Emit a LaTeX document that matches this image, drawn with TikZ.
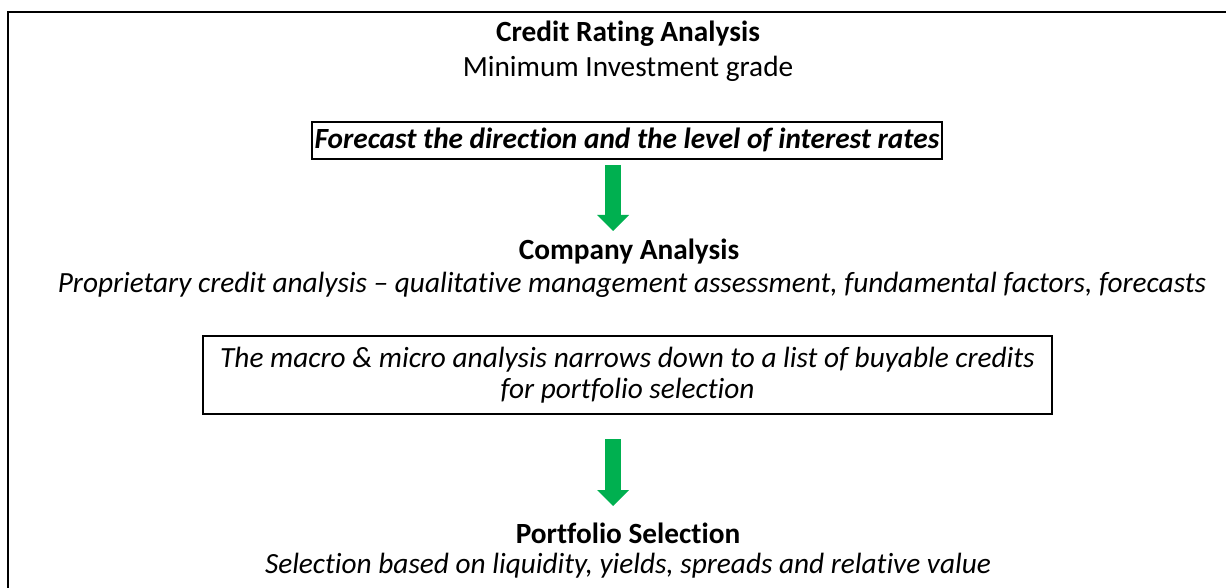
\documentclass[tikz,border=0pt]{standalone}
\usepackage{fontspec}
\setmainfont{Carlito}[Ligatures={TeX,NoCommon}]
\usetikzlibrary{arrows.meta}
\definecolor{arrowgreen}{HTML}{00B050}
\begin{document}
\begin{tikzpicture}[x=1pt,y=-1pt,
  txt/.style={font=\fontsize{29.3}{31}\selectfont, inner sep=0pt, anchor=base},
  boldtxt/.style={txt, font=\fontsize{29.3}{31}\selectfont\bfseries},
  ittxt/.style={txt, font=\fontsize{29.3}{31}\selectfont\itshape},
  boxstyle/.style={draw=black, line width=1.5pt, inner sep=0pt, align=center},
  greenarrow/.style={draw=arrowgreen, line width=16pt,
    -{Triangle[width=32pt,length=16pt,line width=0pt,fill=arrowgreen]}}]
\useasboundingbox (0,0) rectangle (1226,588);
\node[draw=black, line width=2pt, anchor=north west, minimum width=1240pt, minimum height=600pt, inner sep=0pt] (frame) at (7,11) {};
\node[boldtxt] (t1) at (628,41.7) {Credit Rating Analysis};
\node[txt] (t2) at (628,76.7) {Minimum Investment grade};
\node[boxstyle, anchor=base, minimum width=630pt, text height=27pt, text depth=10pt, font=\fontsize{29.3}{31}\selectfont\bfseries\itshape] (box1) at (627,149) {Forecast the direction and the level of interest rates};
\coordinate (a1s) at (613,165);
\coordinate (a1e) at (613,231);
\draw[greenarrow] (a1s) -- (a1e);
\node[boldtxt] (ca) at (629,259) {Company Analysis};
\node[ittxt] (pc) at (632,292) {Proprietary credit analysis – qualitative management assessment, fundamental factors, forecasts};
\node[boxstyle, minimum width=849pt, minimum height=78pt, font=\fontsize{29.3}{31}\selectfont\itshape] (box2) at (627.5,375) {The macro \& micro analysis narrows down to a list of buyable credits\\for portfolio selection};
\coordinate (a2s) at (613,439);
\coordinate (a2e) at (613,506);
\draw[greenarrow] (a2s) -- (a2e);
\node[boldtxt] (ps) at (628,543) {Portfolio Selection};
\node[ittxt] (sb) at (628,573) {Selection based on liquidity, yields, spreads and relative value};
\end{tikzpicture}
\end{document}
